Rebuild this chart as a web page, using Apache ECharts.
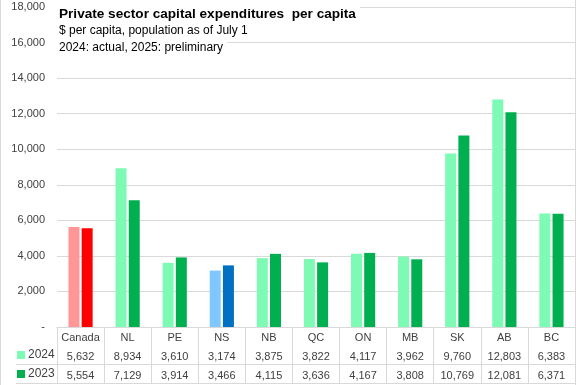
<!DOCTYPE html>
<html>
<head>
<meta charset="utf-8">
<script src="https://cdn.jsdelivr.net/npm/echarts@6/dist/echarts.min.js"></script>
<style>html,body{margin:0;padding:0;background:#fff}#c{width:576px;height:385px}</style>
</head>
<body>
<div id="c"></div>
<script>
const categories = ['Canada','NL','PE','NS','NB','QC','ON','MB','SK','AB','BC'];
const values2024 = [5632, 8934, 3610, 3174, 3875, 3822, 4117, 3962, 9760, 12803, 6383];
const values2023 = [5554, 7129, 3914, 3466, 4115, 3636, 4167, 3808, 10769, 12081, 6371];
const yTicks = [0, 2000, 4000, 6000, 8000, 10000, 12000, 14000, 16000, 18000];

const FONT = 'Liberation Sans, Arial, sans-serif';
const C24 = '#7dfab4', C23 = '#00b050';
const special = {
  Canada: ['#ff9797', '#ff0000'],
  NS: ['#80c6ff', '#0070c0']
};
const fmt = v => v.toLocaleString('en-US');

function seriesData(vals, idx) {
  return vals.map((v, i) => {
    const s = special[categories[i]];
    return s ? { value: v, itemStyle: { color: s[idx] } } : v;
  });
}

const chart = echarts.init(document.getElementById('c'));
const gridColor = '#d9d9d9';
const textColor = '#404040';
chart.setOption({
  animation: false,
  title: [
    { text: 'Private sector capital expenditures  per capita', left: 55, top: 5, padding: [2, 4, 1, 4], backgroundColor: '#fff',
      textStyle: { fontFamily: FONT, fontSize: 13.6, fontWeight: 'bold', color: '#000' } },
    { text: '$ per capita, population as of July 1', left: 55, top: 24, padding: [1, 4, 1, 4], backgroundColor: '#fff',
      textStyle: { fontFamily: FONT, fontSize: 12, fontWeight: 'normal', color: '#000' } },
    { text: '2024: actual, 2025: preliminary', left: 55, top: 41, padding: [1, 4, 1, 4], backgroundColor: '#fff',
      textStyle: { fontFamily: FONT, fontSize: 12, fontWeight: 'normal', color: '#000' } }
  ],
  legend: {
    data: ['2024', '2023'], orient: 'vertical', left: 17, top: 348, padding: 0,
    icon: 'rect', itemWidth: 8, itemHeight: 8, itemGap: 5,
    textStyle: { fontFamily: FONT, fontSize: 12, color: textColor, lineHeight: 14, padding: [0, 0, 0, -2] },
    selectedMode: false
  },
  grid: { left: 57, right: 1, top: 7, bottom: 58, containLabel: false },
  yAxis: {
    type: 'value', min: 0, max: 18000, interval: 2000,
    axisLine: { show: false }, axisTick: { show: false },
    splitLine: { lineStyle: { color: gridColor, width: 1 } },
    axisLabel: { margin: 12, fontFamily: FONT, fontSize: 11, color: textColor,
      formatter: v => v === 0 ? '-' : fmt(v) }
  },
  xAxis: [
    { type: 'category', data: categories, position: 'bottom',
      axisLine: { lineStyle: { color: gridColor } },
      axisTick: { show: true, length: 56, lineStyle: { color: gridColor } },
      axisLabel: { margin: 5, fontFamily: FONT, fontSize: 11, color: textColor, interval: 0 } },
    { type: 'category', data: categories, position: 'bottom', offset: 18,
      axisLine: { show: false }, axisTick: { show: false },
      axisLabel: { margin: 6, fontFamily: FONT, fontSize: 11, color: textColor, interval: 0,
        formatter: (v, i) => fmt(values2024[i]) } },
    { type: 'category', data: categories, position: 'bottom', offset: 37,
      axisLine: { show: false }, axisTick: { show: false },
      axisLabel: { margin: 6, fontFamily: FONT, fontSize: 11, color: textColor, interval: 0,
        formatter: (v, i) => fmt(values2023[i]) } }
  ],
  series: [
    { name: '2024', type: 'bar', xAxisIndex: 0, data: seriesData(values2024, 0), barWidth: 11, barGap: '20%', itemStyle: { color: C24 } },
    { name: '2023', type: 'bar', xAxisIndex: 0, data: seriesData(values2023, 1), barWidth: 11, barGap: '20%', itemStyle: { color: C23 } }
  ],
  graphic: [
    { type: 'line', shape: { x1: 16, y1: 364.5, x2: 576, y2: 364.5 }, style: { stroke: gridColor, lineWidth: 1 } },
    { type: 'line', shape: { x1: 16, y1: 383.5, x2: 576, y2: 383.5 }, style: { stroke: gridColor, lineWidth: 1 } },
    { type: 'line', shape: { x1: 0.5, y1: 0, x2: 0.5, y2: 385 }, style: { stroke: gridColor, lineWidth: 1 } },
    { type: 'line', shape: { x1: 575.5, y1: 0, x2: 575.5, y2: 385 }, style: { stroke: gridColor, lineWidth: 1 } }
  ]
});
</script>
</body>
</html>
